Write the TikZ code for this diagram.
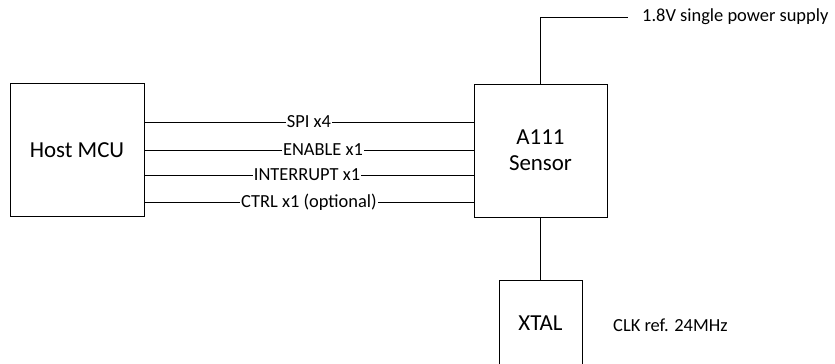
\documentclass[tikz,border=0pt]{standalone}
\usepackage{fontspec}
\setmainfont{Carlito}
\begin{document}
\begin{tikzpicture}[x=1bp,y=-1bp,
  box/.style={draw, line width=0.8bp, minimum width=134bp, minimum height=133bp, inner sep=0pt, font=\fontsize{23}{27}\selectfont, align=center},
  wire/.style={line width=0.8bp},
  lbl/.style={fill=white, inner sep=1bp, font=\fontsize{18.5}{22}\selectfont},
  txt/.style={inner sep=0pt, font=\fontsize{18.5}{22}\selectfont, anchor=west}]
\clip (0,0) rectangle (835,363);
\useasboundingbox (0,0) rectangle (835,363);
\node[box] (host) at (77,150) {Host MCU};
\node[box, minimum width=133bp] (sensor) at (540.5,150.5) {A111\\[-1pt]Sensor};
\node[box, minimum width=83bp, minimum height=86bp] (xtal) at (540.5,323) {XTAL};
\node[txt] (clk) at (613,325) {CLK ref. 24MHz};
\node[txt] (pwr) at (642,17) {1.8V single power supply};
\coordinate (pend) at (628,17);
\foreach \yy/\t/\dx in {122/SPI  x4/0,150/ENABLE x1/14,175/INTERRUPT x1/-2,202/CTRL x1 (optional)/0}{
  \draw[wire] (host.east |- 0,\yy) -- node[lbl, xshift=\dx bp] {\t} (sensor.west |- 0,\yy);
}
\draw[wire] (sensor.north) |- (pend);
\draw[wire] (sensor.south) -- (xtal.north);
\end{tikzpicture}
\end{document}
